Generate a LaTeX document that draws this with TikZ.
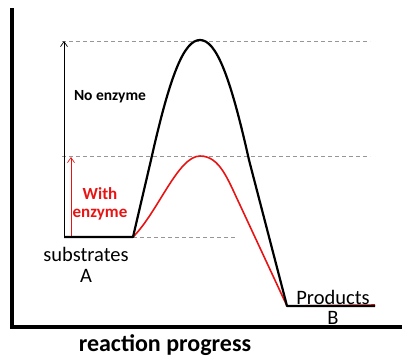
\documentclass[tikz,border=0pt]{standalone}
\usepackage{fontspec}
\setmainfont{Carlito}
\usetikzlibrary{arrows.meta}
\definecolor{myred}{RGB}{232,20,20}
\definecolor{dashgray}{RGB}{150,150,150}
\tikzset{
  axis/.style={line width=3.5pt},
  guide/.style={dashgray, dash pattern=on 4pt off 3pt, line width=0.8pt},
  curveblack/.style={line width=2.2pt, line join=round},
  curvered/.style={myred, line width=1.6pt, line join=round},
  barrier/.style={line width=0.7pt, -{Straight Barb[length=5pt,width=7pt]}},
  lbl/.style={inner sep=0pt, font=\fontsize{20.5}{22}\selectfont},
  small/.style={inner sep=0pt, font=\bfseries\fontsize{15.5}{18}\selectfont}
}
\begin{document}
\begin{tikzpicture}[x=1pt,y=-1pt]
\useasboundingbox (0,0) rectangle (420,360);
% coordinates
\coordinate (top) at (12,8);
\coordinate (origin) at (12,327);
\coordinate (xend) at (402,327);
\coordinate (s0) at (64,237);
\coordinate (s1) at (133,237);
\coordinate (p0) at (287,306);
\coordinate (p1) at (375,306);
\coordinate (peakB) at (200,40);
\coordinate (peakR) at (200,156);
% guides
\draw[guide] (62,41) -- (370,41);
\draw[guide] (62,156) -- (370,156);
\draw[guide] (s1) -- (237,237);
% axes
\draw[axis] (top) -- (origin) -- (xend);
% arrows
\coordinate (bA) at (64,237);
\coordinate (bB) at (64,41);
\coordinate (rA) at (71,237);
\coordinate (rB) at (71,157);
\draw[barrier] (bA) -- (bB);
\draw[barrier, myred] (rA) -- (rB);
% red curve
\draw[curvered] (s0) -- (s1) .. controls (158,212) and (178,156) .. (peakR)
  .. controls (220,156) and (228,180) .. (240,205) -- (p0) -- ([yshift=1pt]p1);
% black curve
\draw[curveblack] (s0) -- (s1) -- (151,160) .. controls (170,75) and (184,40) .. (peakB)
  .. controls (216,40) and (230,75) .. (249,160) -- (p0) -- (p1);
% labels
\node[lbl] (subs) at (86,254) {substrates};
\node[lbl] (A) at (86,276) {A};
\node[lbl] (prod) at (333,297) {Products};
\node[lbl] (B) at (333,318) {B};
\node[small] (noenz) at (110,97) {No enzyme};
\node[small, font=\bfseries\fontsize{17}{18}\selectfont, myred, align=center] (withenz) at (100,204) {With\\enzyme};
\node[inner sep=0pt, font=\bfseries\fontsize{24}{26}\selectfont] (xlab) at (165,345) {reaction progress};
\end{tikzpicture}
\end{document}
